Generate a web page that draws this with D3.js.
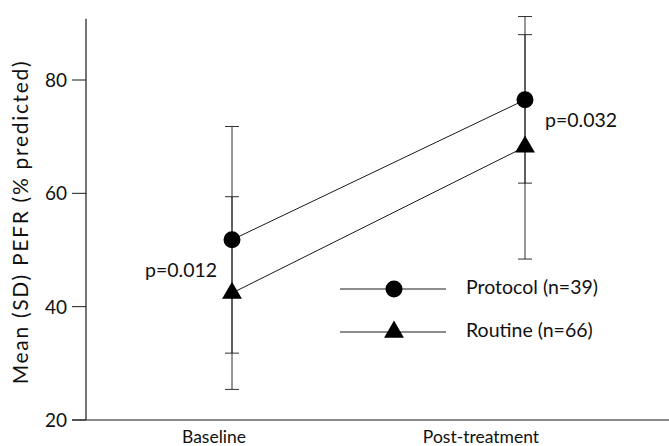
<!DOCTYPE html>
<html>
<head>
<meta charset="utf-8">
<script src="https://cdn.jsdelivr.net/npm/d3@7"></script>
<style>
  body { margin: 0; background: #fff; }
  svg text { font-family: Lato, "Open Sans", sans-serif; fill: #111; }
</style>
</head>
<body>
<svg id="chart" width="669" height="446"></svg>
<script>
// data
var categories = ["Baseline", "Post-treatment"];
var protocolMean = [51.8, 76.5];
var protocolSD = [20.0, 14.7];
var routineMean = [42.4, 68.2];
var routineSD = [17.0, 19.8];
var yTicks = [20, 40, 60, 80];
var pLabels = ["p=0.012", "p=0.032"];
var legendNames = ["Protocol (n=39)", "Routine (n=66)"];

var svg = d3.select("#chart");

var x = d3.scalePoint().domain(categories).range([232, 525]).padding(0);
var y = d3.scaleLinear().domain([20, 80]).range([420, 80]);

var ink = "#1a1a1a";

// axes
svg.append("line")
  .attr("x1", 86).attr("x2", 86)
  .attr("y1", y(20)).attr("y2", y(90.8))
  .attr("stroke", ink).attr("stroke-width", 1.2);
svg.append("line")
  .attr("x1", 72).attr("x2", 669)
  .attr("y1", y(20)).attr("y2", y(20))
  .attr("stroke", ink).attr("stroke-width", 1.2);

yTicks.forEach(function(t){
  svg.append("line")
    .attr("x1", 72).attr("x2", 86)
    .attr("y1", y(t)).attr("y2", y(t))
    .attr("stroke", ink).attr("stroke-width", 1);
  svg.append("text")
    .attr("x", 67).attr("y", y(t) + 7)
    .attr("text-anchor", "end")
    .style("font-size", "19px")
    .text(t);
});

// category labels (set slightly left of data points, as in the original)
var labelShift = [-18, -44];
categories.forEach(function(c, i){
  svg.append("text")
    .attr("x", x(c) + labelShift[i]).attr("y", 443)
    .attr("text-anchor", "middle")
    .style("font-size", "17.5px")
    .text(c);
});

svg.append("text")
  .attr("transform", "translate(28," + 222 + ") rotate(-90)")
  .attr("text-anchor", "middle")
  .style("font-size", "21px")
  .style("letter-spacing", "1.7px")
  .text("Mean (SD) PEFR (% predicted)");

// error bars
function errorBars(means, sds){
  for(var i = 0; i < categories.length; i++){
    var cx = x(categories[i]);
    var lo = means[i] - sds[i], hi = means[i] + sds[i];
    svg.append("line")
      .attr("x1", cx).attr("x2", cx)
      .attr("y1", y(lo)).attr("y2", y(hi))
      .attr("stroke", ink).attr("stroke-width", 0.9);
    [lo, hi].forEach(function(v){
      svg.append("line")
        .attr("x1", cx - 7).attr("x2", cx + 7)
        .attr("y1", y(v)).attr("y2", y(v))
        .attr("stroke", ink).attr("stroke-width", 0.9);
    });
  }
}
errorBars(protocolMean, protocolSD);
errorBars(routineMean, routineSD);

// connecting lines
var line = d3.line()
  .x(function(d, i){ return x(categories[i]); })
  .y(function(d){ return y(d); });
svg.append("path").datum(protocolMean).attr("d", line)
  .attr("fill", "none").attr("stroke", ink).attr("stroke-width", 1);
svg.append("path").datum(routineMean).attr("d", line)
  .attr("fill", "none").attr("stroke", ink).attr("stroke-width", 1);

var tri = d3.symbol().type(d3.symbolTriangle).size(170);

function circleAt(cx, cy){
  svg.append("circle").attr("cx", cx).attr("cy", cy).attr("r", 8.5).attr("fill", "#000");
}
function triangleAt(cx, cy){
  svg.append("path").attr("d", tri)
    .attr("transform", "translate(" + cx + "," + cy + ")")
    .attr("fill", "#000");
}

protocolMean.forEach(function(d, i){ circleAt(x(categories[i]), y(d)); });
routineMean.forEach(function(d, i){ triangleAt(x(categories[i]), y(d)); });

// p-values
svg.append("text").attr("x", x(categories[0]) - 87).attr("y", 277)
  .style("font-size", "19.5px").text(pLabels[0]);
svg.append("text").attr("x", x(categories[1]) + 20).attr("y", 127)
  .style("font-size", "19.5px").text(pLabels[1]);

// legend
var legendY = [289, 332];
legendNames.forEach(function(name, i){
  svg.append("line")
    .attr("x1", 340).attr("x2", 446)
    .attr("y1", legendY[i]).attr("y2", legendY[i])
    .attr("stroke", ink).attr("stroke-width", 1);
  if(i === 0) circleAt(394, legendY[i]);
  else triangleAt(394, legendY[i]);
  svg.append("text")
    .attr("x", 466).attr("y", legendY[i] + 5)
    .style("font-size", "19.5px")
    .text(name);
});
</script>
</body>
</html>
